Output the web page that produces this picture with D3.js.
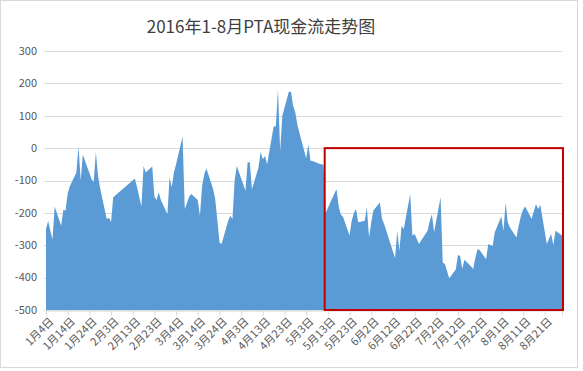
<!DOCTYPE html>
<html>
<head>
<meta charset="utf-8">
<script src="https://cdn.jsdelivr.net/npm/d3@7"></script>
<style>
  body { margin: 0; background: #fff; }
  svg { display: block; font-family: "Noto Sans CJK SC", "Noto Sans", sans-serif; }
</style>
</head>
<body>
<svg id="chart"></svg>
<script>
const title = "2016年1-8月PTA现金流走势图";

// trading dates and cash flow values (yuan/ton)
const dates = [
  "2016-01-04","2016-01-05","2016-01-06","2016-01-07","2016-01-08",
  "2016-01-11","2016-01-12","2016-01-13","2016-01-14","2016-01-15",
  "2016-01-18","2016-01-19","2016-01-20","2016-01-21","2016-01-22",
  "2016-01-25","2016-01-26","2016-01-27","2016-01-28","2016-01-29",
  "2016-02-01","2016-02-02","2016-02-03","2016-02-04",
  "2016-02-14","2016-02-15","2016-02-16","2016-02-17","2016-02-18","2016-02-19",
  "2016-02-22","2016-02-23","2016-02-24","2016-02-25","2016-02-26",
  "2016-02-29","2016-03-01","2016-03-02","2016-03-03","2016-03-04",
  "2016-03-07","2016-03-08","2016-03-09","2016-03-10","2016-03-11",
  "2016-03-14","2016-03-15","2016-03-16","2016-03-17","2016-03-18",
  "2016-03-21","2016-03-22","2016-03-23","2016-03-24","2016-03-25",
  "2016-03-28","2016-03-29","2016-03-30","2016-03-31","2016-04-01",
  "2016-04-05","2016-04-06","2016-04-07","2016-04-08",
  "2016-04-11","2016-04-12","2016-04-13","2016-04-14","2016-04-15",
  "2016-04-18","2016-04-19","2016-04-20","2016-04-21","2016-04-22",
  "2016-04-25","2016-04-26","2016-04-27","2016-04-28","2016-04-29",
  "2016-05-03","2016-05-04","2016-05-05","2016-05-06",
  "2016-05-09","2016-05-10","2016-05-11","2016-05-12","2016-05-13",
  "2016-05-16","2016-05-17","2016-05-18","2016-05-19","2016-05-20",
  "2016-05-23","2016-05-24","2016-05-25","2016-05-26","2016-05-27",
  "2016-05-30","2016-05-31","2016-06-01","2016-06-02","2016-06-03",
  "2016-06-06","2016-06-07","2016-06-08",
  "2016-06-13","2016-06-14","2016-06-15","2016-06-16","2016-06-17",
  "2016-06-20","2016-06-21","2016-06-22","2016-06-23","2016-06-24",
  "2016-06-27","2016-06-28","2016-06-29","2016-06-30","2016-07-01",
  "2016-07-04","2016-07-05","2016-07-06","2016-07-07","2016-07-08",
  "2016-07-11","2016-07-12","2016-07-13","2016-07-14","2016-07-15",
  "2016-07-18","2016-07-19","2016-07-20","2016-07-21","2016-07-22",
  "2016-07-25","2016-07-26","2016-07-27","2016-07-28","2016-07-29",
  "2016-08-01","2016-08-02","2016-08-03","2016-08-04","2016-08-05",
  "2016-08-08","2016-08-09","2016-08-10","2016-08-11","2016-08-12",
  "2016-08-15","2016-08-16","2016-08-17","2016-08-18","2016-08-19",
  "2016-08-22","2016-08-23","2016-08-24","2016-08-25","2016-08-26",
  "2016-08-29"
];

const cashFlow = [
  -250, -225, -255, -282, -180,
  -240, -190, -193, -140, -118,
  -75, 5, -100, -20, -40,
  -95, -105, -12, -85, -125,
  -219, -215, -228, -152,
  -94, -121, -150, -180, -55, -75,
  -57, -150, -160, -137, -160,
  -204, -90, -121, -75, -50,
  36, -188, -170, -150, -142,
  -160, -209, -116, -80, -63,
  -125, -155, -220, -291, -296,
  -225, -209, -219, -100, -55,
  -132, -44, -44, -127,
  -60, -12, -34, -24, -50,
  67, 67, 182, -8, 100,
  174, 174, 130, 110, 70,
  -31, 12, -39, -40,
  -48, -50, -52, -200, -185,
  -140, -127, -180, -205, -212,
  -270, -224, -200, -188, -229,
  -224, -183, -276, -230, -193,
  -168, -219, -235,
  -340, -255, -317, -240, -250,
  -142, -270, -265, -280, -296,
  -265, -255, -225, -204, -260,
  -152, -353, -358, -380, -402,
  -375, -330, -333, -373, -345,
  -365, -373, -340, -312, -315,
  -343, -296, -300, -302, -260,
  -211, -255, -168, -230, -245,
  -276, -240, -211, -190, -180,
  -219, -195, -173, -188, -176,
  -296, -280, -265, -299, -255,
  -270
];

const tickDates = [
  "2016-01-04","2016-01-14","2016-01-24","2016-02-03","2016-02-13","2016-02-23",
  "2016-03-04","2016-03-14","2016-03-24","2016-04-03","2016-04-13","2016-04-23",
  "2016-05-03","2016-05-13","2016-05-23","2016-06-02","2016-06-12","2016-06-22",
  "2016-07-02","2016-07-12","2016-07-22","2016-08-01","2016-08-11","2016-08-21"
];
const yTicks = [-500, -400, -300, -200, -100, 0, 100, 200, 300];

// highlighted period (red box)
const boxStart = "2016-05-12";
const boxEnd = "2016-08-29";
const boxTop = 0;

const width = 583, height = 371;
const margin = { top: 51, right: 21, bottom: 61, left: 46 };

const parse = d3.utcParse("%Y-%m-%d");
const data = dates.map((d, i) => ({ date: parse(d), value: cashFlow[i] }));

const svg = d3.select("#chart")
  .attr("width", width)
  .attr("height", height);

// outer chart border
svg.append("rect")
  .attr("x", 0.5).attr("y", 0.5)
  .attr("width", 577).attr("height", 367)
  .attr("fill", "#fff")
  .attr("stroke", "#d9d9d9");

const x = d3.scaleUtc()
  .domain([parse(dates[0]), parse(dates[dates.length - 1])])
  .range([margin.left, width - margin.right]);

const y = d3.scaleLinear()
  .domain([-500, 300])
  .range([height - margin.bottom, margin.top]);

// title
svg.append("text")
  .attr("x", 261)
  .attr("y", 33)
  .attr("text-anchor", "middle")
  .attr("font-size", 17)
  .attr("fill", "#404040")
  .text(title);

// gridlines
svg.append("g")
  .selectAll("line")
  .data(yTicks)
  .enter().append("line")
  .attr("x1", margin.left - 2)
  .attr("x2", width - margin.right)
  .attr("y1", d => Math.round(y(d)) + 0.5)
  .attr("y2", d => Math.round(y(d)) + 0.5)
  .attr("stroke", "#d9d9d9");

// y labels
svg.append("g")
  .selectAll("text")
  .data(yTicks)
  .enter().append("text")
  .attr("x", 37)
  .attr("y", d => y(d))
  .attr("dy", "0.35em")
  .attr("text-anchor", "end")
  .attr("font-size", 11)
  .attr("fill", "#595959")
  .text(d => String(d));

// area
const area = d3.area()
  .x(d => x(d.date))
  .y0(y(-500))
  .y1(d => y(d.value));

svg.append("path")
  .datum(data)
  .attr("d", area)
  .attr("fill", "#5b9bd5");

// x axis
const xAxis = svg.append("g")
  .attr("transform", `translate(0,${Math.round(y(-500)) + 0.5})`)
  .call(d3.axisBottom(x)
    .tickValues(tickDates.map(parse))
    .tickSize(5)
    .tickFormat(d3.utcFormat("%-m月%-d日")));

xAxis.select(".domain").attr("stroke", "#d9d9d9");
xAxis.selectAll(".tick line").attr("stroke", "#d9d9d9");
xAxis.selectAll(".tick text")
  .attr("font-family", "Noto Sans CJK SC, sans-serif")
  .attr("font-size", 11)
  .attr("fill", "#595959")
  .attr("text-anchor", "end")
  .attr("x", 0).attr("y", 0).attr("dy", "0.35em")
  .attr("transform", "translate(5,9) rotate(-45)");

// red box over the highlighted period
svg.append("rect")
  .attr("x", x(parse(boxStart)) - 1)
  .attr("y", y(boxTop))
  .attr("width", x(parse(boxEnd)) - x(parse(boxStart)) + 2)
  .attr("height", y(-500) - y(boxTop))
  .attr("fill", "none")
  .attr("stroke", "#c00000")
  .attr("stroke-width", 2);
</script>
</body>
</html>
